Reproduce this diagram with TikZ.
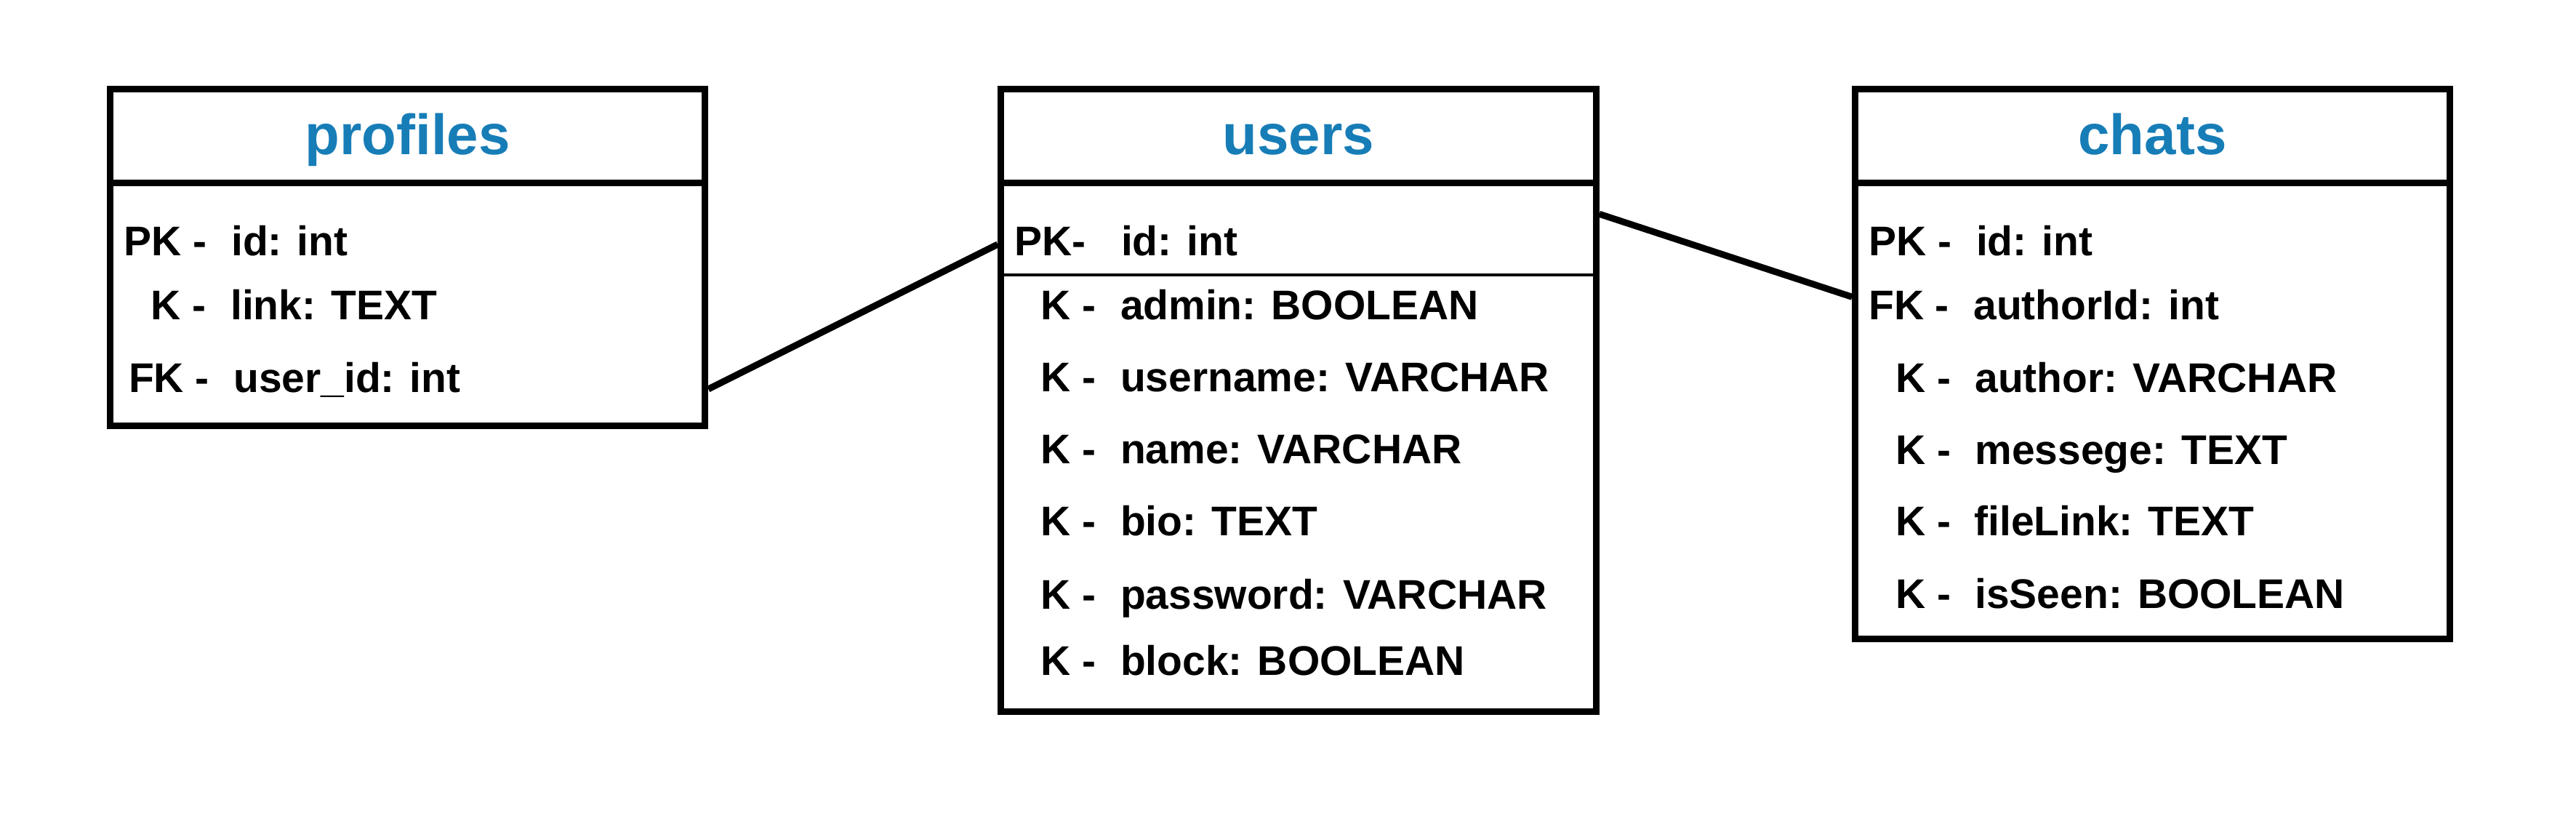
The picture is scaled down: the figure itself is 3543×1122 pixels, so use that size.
\documentclass[tikz,border=0pt]{standalone}
\usepackage{fontspec}
\setmainfont{Liberation Sans}
\usetikzlibrary{calc}
\definecolor{titleblue}{RGB}{23,125,183}
\tikzset{
  tablebox/.style={draw=black, line width=0.09cm, fill=white, inner sep=0pt, rectangle},
  sepline/.style={draw=black, line width=0.09cm},
  thinsep/.style={draw=black, line width=0.04cm},
  relline/.style={draw=black, line width=0.09cm},
  ttl/.style={anchor=base, inner sep=0pt, text=titleblue, font=\fontsize{22.2pt}{26pt}\selectfont\bfseries},
  keytxt/.style={anchor=base west, inner sep=0pt, font=\fontsize{16.2pt}{19pt}\selectfont\bfseries},
  fldtxt/.style={anchor=base west, inner sep=0pt, font=\fontsize{16.2pt}{19pt}\selectfont\bfseries}
}
\begin{document}
\begin{tikzpicture}[x=0.01cm, y=-0.01cm]
\useasboundingbox[fill=white] (0,0) rectangle (3543,1122);

% tables
\node[tablebox, minimum width=8.178cm, minimum height=4.627cm] (profiles) at (560.6,354.35) {};
\node[tablebox, minimum width=8.18cm, minimum height=8.55cm] (users) at (1786,550.5) {};
\node[tablebox, minimum width=8.17cm, minimum height=7.553cm] (chats) at (2960.5,500.65) {};

% header separators
\draw[sepline] (151.7,251.7) -- (969.5,251.7);
\draw[sepline] (1377,251.7) -- (2195,251.7);
\draw[sepline] (2552,251.7) -- (3369,251.7);
% users PK separator
\draw[thinsep] (1381,378) -- (2191,378);

% titles
\node[ttl] (tprofiles) at (560.6,212.7) {profiles};
\node[ttl] (tusers) at (1786,212.7) {users};
\node[ttl] (tchats) at (2960.5,212.7) {chats};

% profiles rows
\node[keytxt] (p1k) at (169.5,351.7) {PK -};
\node[fldtxt] (p1f) at (317.5,351.7) {id: int};
\node[keytxt] (p2k) at (206.8,440) {K -};
\node[fldtxt] (p2f) at (316.5,440) {link: TEXT};
\node[keytxt] (p3k) at (176.4,539.3) {FK -};
\node[fldtxt] (p3f) at (320.5,539.3) {user\_id: int};

% users rows
\node[keytxt] (u1k) at (1395,351.7) {PK-};
\node[fldtxt] (u1f) at (1541.3,351.7) {id: int};
\node[keytxt] (u2k) at (1431,439.5) {K -};
\node[fldtxt] (u2f) at (1540.3,439.5) {admin: BOOLEAN};
\node[keytxt] (u3k) at (1431,538.5) {K -};
\node[fldtxt] (u3f) at (1540.3,538.5) {username: VARCHAR};
\node[keytxt] (u4k) at (1431,637.5) {K -};
\node[fldtxt] (u4f) at (1540.3,637.5) {name: VARCHAR};
\node[keytxt] (u5k) at (1431,736.5) {K -};
\node[fldtxt] (u5f) at (1540.3,736.5) {bio: TEXT};
\node[keytxt] (u6k) at (1431,837) {K -};
\node[fldtxt] (u6f) at (1540.3,837) {password: VARCHAR};
\node[keytxt] (u7k) at (1431,928.5) {K -};
\node[fldtxt] (u7f) at (1540.3,928.5) {block: BOOLEAN};

% chats rows
\node[keytxt] (c1k) at (2569.5,351.7) {PK -};
\node[fldtxt] (c1f) at (2717.3,351.7) {id: int};
\node[keytxt] (c2k) at (2569.5,440) {FK -};
\node[fldtxt] (c2f) at (2713.7,440) {authorId: int};
\node[keytxt] (c3k) at (2606.8,539.3) {K -};
\node[fldtxt] (c3f) at (2715.7,539.3) {author: VARCHAR};
\node[keytxt] (c4k) at (2606.8,638.3) {K -};
\node[fldtxt] (c4f) at (2715.7,638.3) {messege: TEXT};
\node[keytxt] (c5k) at (2606.8,736.7) {K -};
\node[fldtxt] (c5f) at (2714.7,736.7) {fileLink: TEXT};
\node[keytxt] (c6k) at (2606.8,836.7) {K -};
\node[fldtxt] (c6f) at (2715.7,836.7) {isSeen: BOOLEAN};

% connector heights
\coordinate (y1) at (0,535);
\coordinate (y2) at (0,336);
\coordinate (y3) at (0,294.3);
\coordinate (y4) at (0,408.3);

% relations
\draw[relline] (profiles.east |- y1) -- (users.west |- y2);
\draw[relline] (users.east |- y3) -- (chats.west |- y4);
\end{tikzpicture}
\end{document}
